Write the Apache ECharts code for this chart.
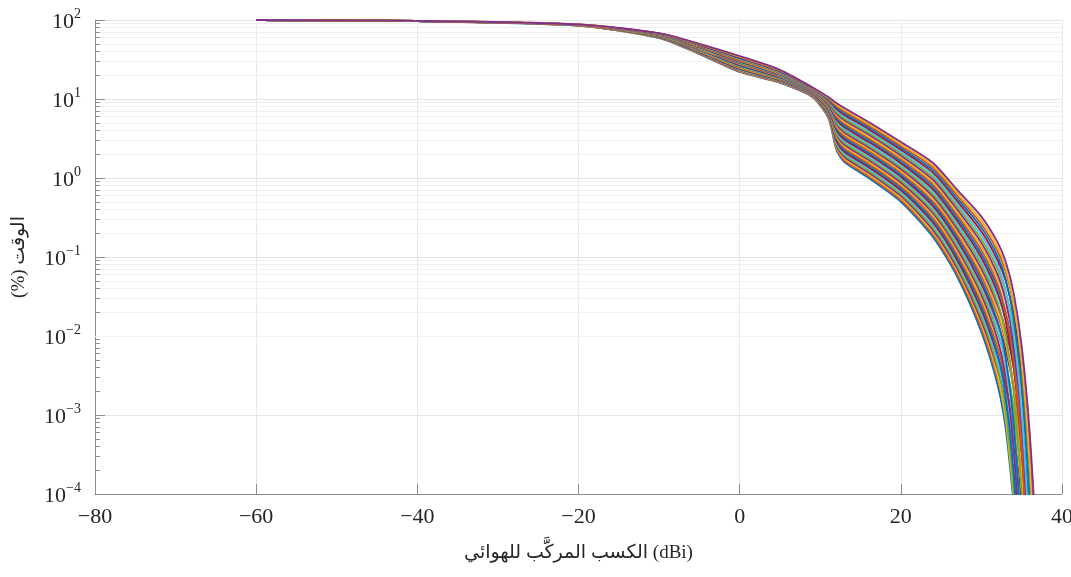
<!DOCTYPE html>
<html>
<head>
<meta charset="utf-8">
<script src="https://cdn.jsdelivr.net/npm/echarts@6/dist/echarts.min.js"></script>
<style>html,body{margin:0;padding:0;background:#fff}#chart{width:1071px;height:577px}</style>
</head>
<body>
<div id="chart"></div>
<script>
// Antenna composite gain (dBi) sample points shared by every curve
const gainDbi = [-60, -40, -20, -10, -5, 0, 5, 9, 11, 12, 13, 16, 20, 24, 27, 30, 32, 33, 34, 35, 36, 37];

// Time percentage (%) for each curve (lowest curve first)
const c00 = [100, 96.6, 84.9, 59.0, 37.0, 22.0, 16.0, 10.6, 5.75, 2.29, 1.585, 1.00, 0.501, 0.178, 0.0562, 0.0112, 2.42e-3, 6.87e-4, 7.5e-5];
const c01 = [100, 96.6, 85.0, 59.3, 37.4, 22.3, 16.2, 10.7, 5.86, 2.39, 1.668, 1.054, 0.530, 0.191, 0.0610, 0.0125, 2.90e-3, 1.01e-3, 1.90e-4, 1.2e-5];
const c02 = [100, 96.7, 85.1, 59.5, 37.7, 22.7, 16.4, 10.8, 5.98, 2.50, 1.755, 1.111, 0.560, 0.205, 0.0662, 0.0139, 3.13e-3, 8.81e-4, 9.1e-5];
const c03 = [100, 96.7, 85.2, 59.8, 38.1, 23.0, 16.6, 10.9, 6.10, 2.61, 1.847, 1.171, 0.593, 0.219, 0.0718, 0.0155, 3.82e-3, 1.45e-3, 3.26e-4, 2.9e-5];
const c04 = [100, 96.7, 85.3, 60.1, 38.5, 23.4, 16.8, 11.0, 6.22, 2.73, 1.943, 1.235, 0.627, 0.235, 0.0779, 0.0173, 4.04e-3, 1.14e-3, 1.13e-4, 1.8e-6];
const c05 = [100, 96.7, 85.4, 60.4, 38.8, 23.7, 17.0, 11.1, 6.35, 2.85, 2.045, 1.302, 0.663, 0.252, 0.0846, 0.0193, 4.91e-3, 1.79e-3, 3.49e-4, 2.3e-5];
const c06 = [100, 96.8, 85.5, 60.6, 39.2, 24.1, 17.2, 11.2, 6.47, 2.98, 2.15, 1.372, 0.701, 0.271, 0.0917, 0.0215, 5.74e-3, 2.37e-3, 6.30e-4, 7.7e-5];
const c07 = [100, 96.8, 85.6, 60.9, 39.6, 24.4, 17.4, 11.3, 6.60, 3.11, 2.26, 1.446, 0.742, 0.290, 0.0995, 0.0239, 6.01e-3, 1.76e-3, 1.84e-4, 3.1e-6];
const c08 = [100, 96.8, 85.7, 61.2, 40.0, 24.8, 17.6, 11.4, 6.74, 3.25, 2.38, 1.525, 0.785, 0.311, 0.108, 0.0267, 7.26e-3, 2.72e-3, 5.37e-4, 3.4e-5];
const c09 = [100, 96.9, 85.8, 61.5, 40.4, 25.2, 17.8, 11.5, 6.87, 3.40, 2.51, 1.607, 0.830, 0.334, 0.117, 0.0297, 8.49e-3, 3.60e-3, 9.68e-4, 1.17e-4, 4.1e-6];
const c10 = [100, 96.9, 85.9, 61.8, 40.8, 25.6, 18.0, 11.6, 7.01, 3.55, 2.64, 1.694, 0.878, 0.358, 0.127, 0.0331, 9.06e-3, 2.96e-3, 3.87e-4, 1.0e-5];
const c11 = [100, 96.9, 86.0, 62.0, 41.2, 25.9, 18.2, 11.7, 7.14, 3.71, 2.78, 1.786, 0.929, 0.384, 0.138, 0.0369, 1.10e-2, 4.69e-3, 1.24e-3, 1.40e-4, 4.3e-6];
const c12 = [100, 96.9, 86.1, 62.3, 41.6, 26.3, 18.5, 11.8, 7.28, 3.88, 2.92, 1.883, 0.982, 0.411, 0.150, 0.0411, 1.21e-2, 4.42e-3, 7.57e-4, 3.4e-5];
const c13 = [100, 97.0, 86.2, 62.6, 42.0, 26.7, 18.7, 11.9, 7.43, 4.05, 3.07, 1.985, 1.039, 0.441, 0.163, 0.0458, 1.46e-2, 6.73e-3, 2.13e-3, 3.47e-4, 2.0e-5];
const c14 = [100, 97.0, 86.3, 62.9, 42.4, 27.1, 18.9, 12.0, 7.58, 4.23, 3.23, 2.09, 1.099, 0.473, 0.176, 0.0511, 1.55e-2, 5.43e-3, 8.04e-4, 2.6e-5];
const c15 = [100, 97.0, 86.4, 63.2, 42.8, 27.6, 19.2, 12.1, 7.73, 4.42, 3.40, 2.21, 1.162, 0.507, 0.191, 0.0569, 1.87e-2, 8.36e-3, 2.34e-3, 2.84e-4, 9.5e-6];
const c16 = [100, 97.1, 86.5, 63.5, 43.2, 28.0, 19.4, 12.3, 7.88, 4.62, 3.58, 2.33, 1.229, 0.544, 0.208, 0.0634, 2.09e-2, 8.77e-3, 2.01e-3, 1.60e-4, 2.4e-6];
const c17 = [100, 97.1, 86.5, 63.8, 43.6, 28.4, 19.6, 12.4, 8.04, 4.82, 3.77, 2.45, 1.300, 0.583, 0.226, 0.0707, 2.46e-2, 1.19e-2, 3.97e-3, 6.79e-4, 4.1e-5];
const c18 = [100, 97.1, 86.6, 64.1, 44.1, 28.8, 19.9, 12.5, 8.20, 5.04, 3.97, 2.58, 1.375, 0.625, 0.245, 0.0788, 2.67e-2, 1.06e-2, 2.00e-3, 1.04e-4, 7.0e-7];
const c19 = [100, 97.1, 86.7, 64.4, 44.5, 29.3, 20.1, 12.6, 8.36, 5.27, 4.17, 2.72, 1.455, 0.670, 0.266, 0.0878, 3.19e-2, 1.57e-2, 5.20e-3, 8.65e-4, 4.9e-5];
const c20 = [100, 97.2, 86.8, 64.7, 44.9, 29.7, 20.4, 12.7, 8.53, 5.50, 4.39, 2.87, 1.539, 0.719, 0.288, 0.0979, 3.55e-2, 1.58e-2, 3.97e-3, 3.62e-4, 6.8e-6];
const c21 = [100, 97.2, 86.9, 65.0, 45.4, 30.2, 20.6, 12.8, 8.70, 5.75, 4.62, 3.03, 1.628, 0.771, 0.313, 0.109, 4.12e-2, 2.02e-2, 6.38e-3, 9.35e-4, 4.1e-5];
const c22 = [100, 97.2, 87.0, 65.3, 45.8, 30.6, 20.9, 12.9, 8.87, 6.01, 4.86, 3.19, 1.722, 0.826, 0.339, 0.122, 4.57e-2, 2.01e-2, 4.70e-3, 3.59e-4, 4.8e-6];
const c23 = [100, 97.3, 87.1, 65.6, 46.3, 31.1, 21.1, 13.1, 9.05, 6.28, 5.11, 3.36, 1.821, 0.886, 0.368, 0.136, 5.41e-2, 2.80e-2, 9.86e-3, 1.77e-3, 1.11e-4, 1.5e-6];
const c24 = [100, 97.3, 87.2, 65.9, 46.7, 31.6, 21.4, 13.2, 9.23, 6.56, 5.38, 3.55, 1.926, 0.950, 0.399, 0.151, 6.01e-2, 2.85e-2, 7.78e-3, 8.05e-4, 1.8e-5];
const c25 = [100, 97.3, 87.3, 66.2, 47.2, 32.0, 21.7, 13.3, 9.41, 6.85, 5.66, 3.74, 2.04, 1.019, 0.433, 0.168, 7.02e-2, 3.70e-2, 1.32e-2, 2.35e-3, 1.43e-4, 1.9e-6];
const c26 = [100, 97.3, 87.4, 66.5, 47.6, 32.5, 21.9, 13.4, 9.60, 7.16, 5.96, 3.94, 2.15, 1.09, 0.470, 0.188, 7.83e-2, 3.78e-2, 1.04e-2, 1.08e-3, 2.4e-5];
const c27 = [100, 97.4, 87.5, 66.9, 48.1, 33.0, 22.2, 13.6, 9.79, 7.48, 6.27, 4.15, 2.28, 1.17, 0.510, 0.210, 9.16e-2, 4.99e-2, 1.87e-2, 3.61e-3, 2.51e-4, 4.0e-6];
const c28 = [100, 97.4, 87.6, 67.2, 48.6, 33.5, 22.5, 13.7, 9.99, 7.81, 6.60, 4.38, 2.41, 1.26, 0.554, 0.234, 1.03e-1, 5.31e-2, 1.69e-2, 2.28e-3, 8.1e-5];
const c29 = [100, 97.4, 87.7, 67.5, 49.0, 34.0, 22.8, 13.8, 10.19, 8.16, 6.94, 4.61, 2.55, 1.35, 0.601, 0.260, 1.19e-1, 6.61e-2, 2.51e-2, 4.84e-3, 3.30e-4, 5.0e-6];
const c30 = [100, 97.5, 87.8, 67.8, 49.5, 34.5, 23.1, 14.0, 10.39, 8.53, 7.31, 4.86, 2.70, 1.44, 0.652, 0.290, 1.35e-1, 7.38e-2, 2.64e-2, 4.46e-3, 2.34e-4, 2.3e-6];
const c31 = [100, 97.5, 87.9, 68.1, 50.0, 35.0, 23.4, 14.1, 10.6, 8.91, 7.69, 5.13, 2.86, 1.55, 0.708, 0.324, 1.54e-1, 8.81e-2, 3.52e-2, 7.45e-3, 5.89e-4, 1.1e-5];

const curves = [c00, c01, c02, c03, c04, c05, c06, c07, c08, c09, c10, c11, c12, c13, c14, c15,
                c16, c17, c18, c19, c20, c21, c22, c23, c24, c25, c26, c27, c28, c29, c30, c31];

// Axis ticks
const xTicks = [-80, -60, -40, -20, 0, 20, 40];
const yDecades = [1e-4, 1e-3, 1e-2, 1e-1, 1, 10, 100];

const xName = 'الكسب المركَّب للهوائي (dBi)';
const yName = 'الوقت (%)\u200F';

const palette = ['#0072BD', '#D95319', '#EDB120', '#7E2F8E', '#77AC30', '#4DBEEE', '#A2142F'];
const serif = "'Liberation Serif', 'DejaVu Sans', serif";

// minor gridlines / minor ticks at 2..9 x 10^k
const minorVals = [];
for (let d = 0; d < yDecades.length - 1; d++) {
  for (let m = 2; m <= 9; m++) minorVals.push(+(m * yDecades[d]).toPrecision(3));
}

const series = curves.map((ys, k) => ({
  type: 'line',
  data: ys.map((v, i) => [gainDbi[i], v]),
  symbol: 'none',
  showSymbol: false,
  smooth: 0.25,
  clip: true,
  silent: true,
  animation: false,
  lineStyle: { width: 1.8, color: palette[k % 7] },
  itemStyle: { color: palette[k % 7] },
  z: 5
}));

// minor gridlines + minor ticks, drawn under the curves
series.unshift({
  type: 'line',
  data: [],
  symbol: 'none',
  silent: true,
  animation: false,
  z: 1,
  markLine: {
    silent: true,
    symbol: ['none', 'none'],
    label: { show: false },
    animation: false,
    data: minorVals.map(v => ({ yAxis: v, lineStyle: { color: '#f0f0f0', width: 1, type: 'solid' } }))
      .concat(minorVals.map(v => [
        { coord: [-80, v], lineStyle: { color: '#8c8c8c', width: 1, type: 'solid' } },
        { coord: [-79.4, v] }
      ]))
  }
});

const chart = echarts.init(document.getElementById('chart'), null, { renderer: 'canvas' });
chart.setOption({
  animation: false,
  backgroundColor: '#ffffff',
  grid: { left: 95, right: 9, top: 20, bottom: 83, outerBoundsMode: 'none', containLabel: false },
  xAxis: {
    type: 'value',
    min: xTicks[0],
    max: xTicks[xTicks.length - 1],
    interval: 20,
    name: xName,
    nameLocation: 'middle',
    nameGap: 50,
    nameTextStyle: { fontFamily: serif, fontSize: 19, color: '#262626' },
    axisLine: { show: true, onZero: false, lineStyle: { color: '#8c8c8c', width: 1 } },
    axisTick: { show: true, inside: true, length: 10, lineStyle: { color: '#8c8c8c' } },
    axisLabel: {
      margin: 12,
      fontFamily: serif,
      fontSize: 22,
      color: '#262626',
      formatter: v => (v < 0 ? '\u2212' + (-v) : String(v))
    },
    splitLine: { show: true, lineStyle: { color: '#e8e8e8', width: 1 } }
  },
  yAxis: {
    type: 'log',
    logBase: 10,
    min: yDecades[0],
    max: yDecades[yDecades.length - 1],
    splitNumber: 6,
    name: yName,
    nameLocation: 'middle',
    nameGap: 66,
    nameRotate: 90,
    nameTextStyle: { fontFamily: serif, fontSize: 19, color: '#262626' },
    axisLine: { show: true, onZero: false, lineStyle: { color: '#8c8c8c', width: 1 } },
    axisTick: { show: true, inside: true, length: 10, lineStyle: { color: '#8c8c8c' } },
    axisLabel: {
      margin: 14,
      color: '#262626',
      formatter: v => {
        const e = Math.round(Math.log10(v));
        return '{b|10}{e|' + (e < 0 ? '\u2212' + (-e) : e) + '}';
      },
      rich: {
        b: { fontFamily: serif, fontSize: 22, lineHeight: 26, verticalAlign: 'bottom', color: '#262626' },
        e: { fontFamily: serif, fontSize: 14, lineHeight: 14, verticalAlign: 'top', color: '#262626' }
      }
    },
    splitLine: { show: true, lineStyle: { color: '#e6e6e6', width: 1 } }
  },
  series: series
});
</script>
</body>
</html>
